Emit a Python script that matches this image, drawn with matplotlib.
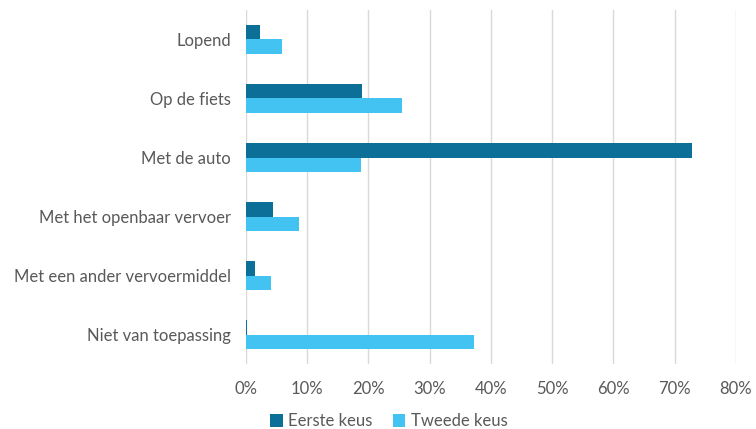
import matplotlib.pyplot as plt
import numpy as np

categories = ['Lopend', 'Op de fiets', 'Met de auto', 'Met het openbaar vervoer',
              'Met een ander vervoermiddel', 'Niet van toepassing']
eerste_keus = [2.3, 18.9, 72.9, 4.4, 1.5, 0.2]
tweede_keus = [5.9, 25.5, 18.8, 8.6, 4.1, 37.2]
xticks = [0, 10, 20, 30, 40, 50, 60, 70, 80]

plt.rcParams['font.family'] = ['Lato', 'DejaVu Sans']

fig = plt.figure(figsize=(7.56, 4.29), dpi=100)
ax = fig.add_axes([0.3254, 0.1515, 0.6481, 0.8252])

y = np.arange(len(categories))
h = 0.254
ax.barh(y - h / 2, eerste_keus, height=h, color='#0B6F98', label='Eerste keus', zorder=3)
ax.barh(y + h / 2, tweede_keus, height=h, color='#42C3F2', label='Tweede keus', zorder=3)

ax.set_ylim(len(categories) - 0.5, -0.5)
ax.set_xlim(0, 80)
ax.set_yticks(y)
ax.set_yticklabels(categories, fontsize=12, color='#595959')
ax.set_xticks(xticks)
ax.set_xticklabels([f'{t}%' for t in xticks], fontsize=12, color='#595959')
ax.tick_params(axis='both', length=0)
ax.tick_params(axis='x', pad=12)
ax.tick_params(axis='y', pad=11)
ax.grid(axis='x', color='#d9d9d9', linewidth=1, zorder=0)
for s in ax.spines.values():
    s.set_visible(False)

leg = fig.legend(loc='center', bbox_to_anchor=(0.5146, 0.018), ncol=2, frameon=False,
                 fontsize=12, handlelength=0.75, handleheight=0.75, handletextpad=0.35,
                 columnspacing=1.2, labelcolor='#595959')

fig.savefig('out.png', dpi=100)
